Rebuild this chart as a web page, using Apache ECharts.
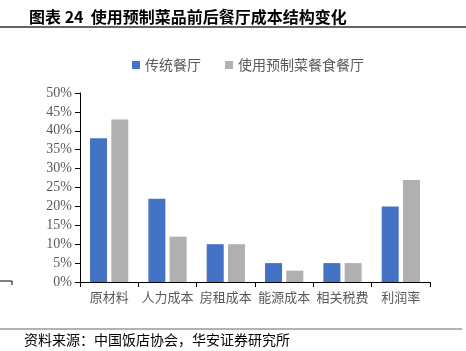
<!DOCTYPE html>
<html>
<head>
<meta charset="utf-8">
<script src="https://cdn.jsdelivr.net/npm/echarts@6/dist/echarts.min.js"></script>
<style>
  html, body { margin: 0; padding: 0; background: #fff; }
  #chart { width: 466px; height: 351px; }
</style>
</head>
<body>
<div id="chart"></div>
<script>
var categories = ["原材料", "人力成本", "房租成本", "能源成本", "相关税费", "利润率"];
var traditional = [38, 22, 10, 5, 5, 20];
var prepared = [43, 12, 10, 3, 5, 27];
var seriesNames = ["传统餐厅", "使用预制菜餐食餐厅"];

var cjk = '"Noto Sans CJK SC", sans-serif';

var chart = echarts.init(document.getElementById("chart"));

var option = {
  animation: false,
  backgroundColor: "#fff",
  title: {
    text: "图表 24  使用预制菜品前后餐厅成本结构变化",
    left: 24,
    top: 4,
    textStyle: { fontFamily: cjk, fontSize: 16, fontWeight: "bold", color: "#000" },
  },
  legend: {
    top: 53,
    left: 127,
    itemWidth: 8,
    itemHeight: 8,
    itemGap: 24,
    icon: "rect",
    textStyle: { fontFamily: cjk, fontSize: 14, color: "#595959" },
    data: seriesNames,
  },
  grid: { left: 80, right: 36, top: 93, bottom: 69 },
  xAxis: {
    type: "category",
    data: categories,
    axisLine: { lineStyle: { color: "#000", width: 1 } },
    axisTick: { show: true, alignWithLabel: false, length: 5, lineStyle: { color: "#000" } },
    axisLabel: { interval: 0, fontFamily: cjk, fontSize: 13, color: "#595959", margin: 9 },
  },
  yAxis: {
    type: "value",
    min: 0,
    max: 50,
    interval: 5,
    axisLine: { show: true, lineStyle: { color: "#000", width: 1 } },
    axisTick: { show: true, length: 5, lineStyle: { color: "#000" } },
    splitLine: { show: false },
    axisLabel: {
      formatter: "{value}%",
      fontFamily: '"Liberation Serif", serif',
      fontSize: 14,
      color: "#595959",
      margin: 8,
    },
  },
  series: [
    {
      name: seriesNames[0],
      type: "bar",
      data: traditional,
      barWidth: 17,
      barGap: "25%",
      itemStyle: { color: "#4472C4" },
    },
    {
      name: seriesNames[1],
      type: "bar",
      data: prepared,
      barWidth: 17,
      itemStyle: { color: "#B0B0B0" },
    },
  ],
  graphic: [
    { type: "line", shape: { x1: 0, y1: 27, x2: 466, y2: 27 }, style: { stroke: "#333", lineWidth: 1.5 } },
    { type: "line", shape: { x1: 0, y1: 329, x2: 462, y2: 329 }, style: { stroke: "#999", lineWidth: 1.5 } },
    { type: "line", shape: { x1: 0, y1: 281, x2: 12, y2: 281 }, style: { stroke: "#000", lineWidth: 1 } },
    { type: "line", shape: { x1: 12, y1: 281, x2: 12, y2: 285 }, style: { stroke: "#000", lineWidth: 1 } },
    {
      type: "text",
      left: 24,
      top: 333,
      style: { text: "资料来源：中国饭店协会，华安证券研究所", font: '14px "Noto Sans CJK SC"', fill: "#000" },
    },
  ],
};

chart.setOption(option);
</script>
</body>
</html>
